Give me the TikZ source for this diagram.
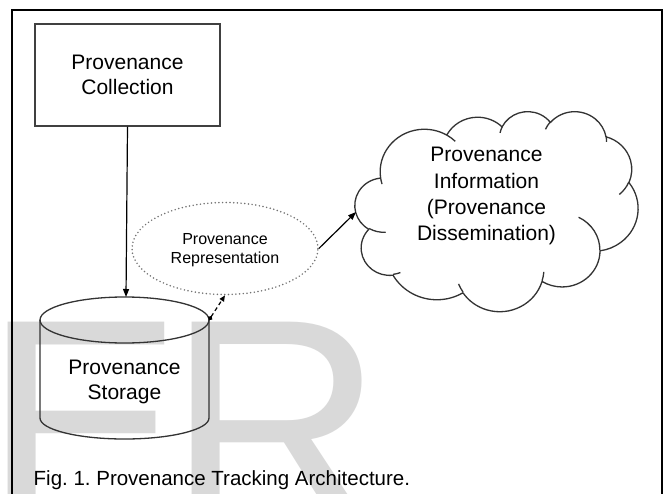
\documentclass[tikz,border=0pt]{standalone}
\usepackage{fontspec}
\setmainfont{Liberation Sans}
\usetikzlibrary{shapes.geometric,arrows.meta}

% Cloud outline helper: converts an elliptical arc given by its radii and a
% visual start angle / sweep (degrees, clockwise with y pointing down) into
% the parametric start angle and delta angle that TikZ's arc expects.
\newcommand\cloudprep[5]{%
  \pgfmathsetmacro\cpa{atan2((#2)*sin(#4),(#3)*cos(#4))}%
  \pgfmathsetmacro\cpb{atan2((#2)*sin((#4)+(#5)),(#3)*cos((#4)+(#5)))}%
  \pgfmathsetmacro\cpd{\cpb-\cpa}%
  \pgfmathsetmacro\cpd{ifthenelse(\cpd<0,\cpd+360,\cpd)}%
  \expandafter\xdef\csname cs@#1\endcsname{\cpa}%
  \expandafter\xdef\csname cd@#1\endcsname{\cpd}%
}
\newcommand\cldS[1]{\csname cs@#1\endcsname}
\newcommand\cldD[1]{\csname cd@#1\endcsname}
\newcommand\cldarc[3]{arc[start angle=\cldS{#1}, delta angle=\cldD{#1}, x radius=#2, y radius=#3]}

\begin{document}
\begin{tikzpicture}[x=1pt,y=-1pt,
  wm/.style={font=\fontsize{300}{300}\selectfont, text=black!15, inner sep=0pt, anchor=base west},
  bigtxt/.style={font=\fontsize{21}{24.5}\selectfont, align=center, inner sep=0pt},
  boxnode/.style={bigtxt, draw=black!75, line width=1.1pt, minimum width=185pt, minimum height=102pt, text depth=0pt},
  reprnode/.style={ellipse, draw=black!55, line width=1.7pt, line cap=round, dash pattern=on 0pt off 3.7pt,
                   minimum width=186pt, minimum height=92pt, inner sep=0pt, align=center,
                   font=\fontsize{16}{19}\selectfont, text depth=0pt},
  shapeline/.style={draw=black!80, line width=1.3pt},
  conn/.style={draw=black, line width=1.2pt, -{Triangle[length=8pt,width=6pt]}},
  dconn/.style={draw=black, line width=1.2pt, dash pattern=on 4pt off 3pt,
                {Circle[length=4.5pt]}-{Triangle[length=6pt,width=5pt]}},
  frameline/.style={draw=black, line width=1.5pt}]

\useasboundingbox (0,0) rectangle (666,494);
\clip (0,0) rectangle (666,494);
\fill[white] (0,0) rectangle (666,494);

% large light-grey letters in the background
\node[wm] (wmE) at (-16.4,528) {E};
\node[wm] (wmR) at (167,528) {R};

% outer frame (open at the bottom)
\draw[frameline] (12,500) -- (12,10) -- (662,10) -- (662,500);

% Provenance Collection
\node[boxnode] (coll) at (127.5,75) {Provenance\\Collection};

% Provenance Storage (cylinder)
\draw[shapeline] (40,320) -- (40,418)
  arc[start angle=180, end angle=0, x radius=84.5, y radius=21] -- (209,320);
\draw[shapeline] (124.5,320) ellipse[x radius=84.5, y radius=23];
\coordinate (storeTop) at (126,297);
\coordinate (storeRim) at (209,320);
\node[bigtxt, font=\fontsize{21}{25}\selectfont] (store) at (124.5,382) {Provenance\\Storage};

% Provenance Representation
\node[reprnode] (repr) at (225,248.5) {Provenance\\Representation};

% Provenance Information cloud
\cloudprep{a}{67.53}{91.90}{-190.4875}{123.7805}
\cloudprep{b}{53.33}{72.67}{-144.1024}{89.9452}
\cloudprep{c}{43.65}{59.45}{-145.8079}{99.7230}
\cloudprep{d}{48.57}{65.95}{-130.9861}{117.2417}
\cloudprep{e}{53.33}{72.73}{-78.7089}{109.0269}
\cloudprep{f}{67.75}{92.20}{-46.2673}{130.2690}
\cloudprep{g}{57.85}{78.67}{0.6250}{114.0333}
\cloudprep{h}{67.52}{92.15}{22.4516}{115.1726}
\cloudprep{i}{77.20}{105.43}{66.2426}{75.7110}
\cloudprep{j}{43.60}{59.18}{-274.9421}{146.7356}
\cloudprep{k}{43.45}{59.45}{-246.8285}{152.5189}
\cloudprep{ia}{43.45}{59.45}{86.7420}{26.4295}
\cloudprep{ib}{43.60}{59.18}{73.6105}{11.4475}
\cloudprep{ic}{67.52}{92.15}{137.6242}{14.0811}
\cloudprep{id}{67.52}{92.15}{6.4533}{15.9984}
\cloudprep{ie}{57.85}{78.67}{-70.2924}{70.9174}
\cloudprep{if}{53.33}{72.73}{30.3180}{27.7515}
\cloudprep{ig}{48.57}{65.95}{-13.7443}{14.8589}
\cloudprep{ih}{48.57}{65.95}{-149.1815}{18.1954}
\cloudprep{ii}{43.65}{59.45}{-163.4943}{17.6864}
\cloudprep{ij}{67.53}{91.90}{-66.7070}{12.3194}
\cloudprep{ik}{67.53}{91.90}{157.6544}{11.8582}
\begin{scope}[shift={(355,111)}]
\begin{scope}[x=0.65509pt, y=-0.46296pt]
  \draw[shapeline, line join=round] (39.00,143.70)
    \cldarc{a}{67.53}{91.90} \cldarc{b}{53.33}{72.67} \cldarc{c}{43.65}{59.45}
    \cldarc{d}{48.57}{65.95} \cldarc{e}{53.33}{72.73} \cldarc{f}{67.75}{92.20}
    \cldarc{g}{57.85}{78.67} \cldarc{h}{67.52}{92.15} \cldarc{i}{77.20}{105.43}
    \cldarc{j}{43.60}{59.18} \cldarc{k}{43.45}{59.45} -- cycle;
  \draw[shapeline]
    (46.93,261.77) \cldarc{ia}{43.45}{59.45}
    (69.28,348.99) \cldarc{ib}{43.60}{59.18}
    (164.78,390.90) \cldarc{ic}{67.52}{92.15}
    (288.27,347.51) \cldarc{id}{67.52}{92.15}
    (341.29,229.54) \cldarc{ie}{57.85}{78.67}
    (417.98,153.54) \cldarc{if}{53.33}{72.73}
    (383.24,54.26) \cldarc{ig}{48.57}{65.95}
    (290.78,39.52) \cldarc{ih}{48.57}{65.95}
    (221.41,47.20) \cldarc{ii}{43.65}{59.45}
    (140.00,51.92) \cldarc{ij}{67.53}{91.90}
    (41.27,157.89) \cldarc{ik}{67.53}{91.90};
\end{scope}
\end{scope}
\coordinate (infoW) at (356,212);
\node[bigtxt, font=\fontsize{21}{26.3}\selectfont] (info) at (486.5,196.2)
  {Provenance\\Information\\(Provenance\\Dissemination)};

% connectors
\draw[conn] (coll.south) -- (storeTop);
\draw[dconn] (storeRim) -- (repr.south);
\draw[conn] (repr.east) -- (infoW);

% caption
\node[anchor=base west, inner sep=0pt, font=\fontsize{20.5}{24}\selectfont] (cap) at (33.5,485)
  {\frenchspacing Fig. 1. Provenance Tracking Architecture.};
\end{tikzpicture}
\end{document}
